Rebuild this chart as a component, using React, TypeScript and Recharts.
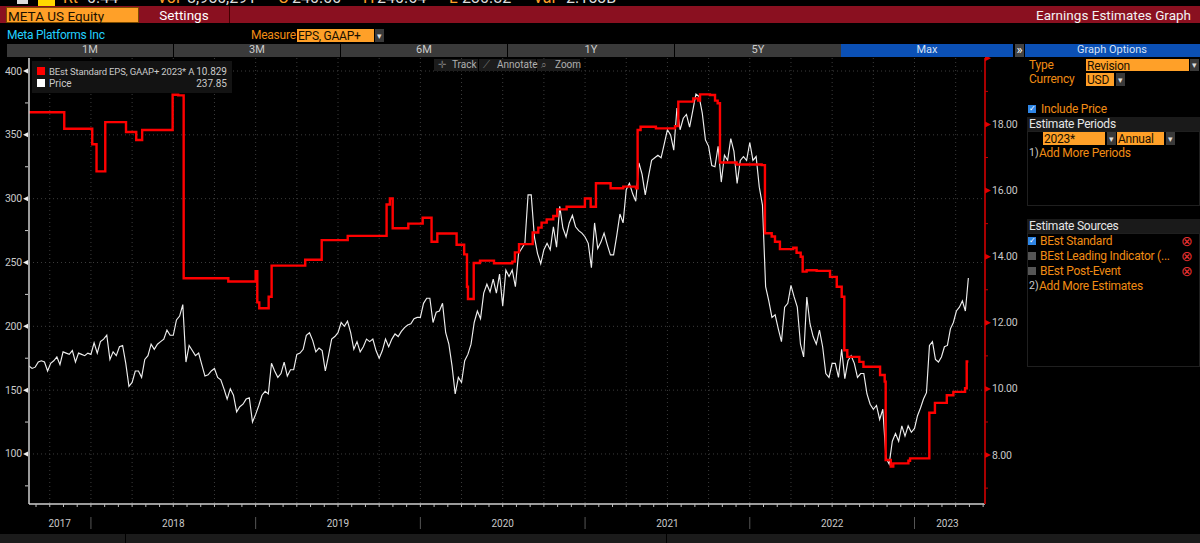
import React from 'react';
import { LineChart, Line, XAxis, YAxis, CartesianGrid } from 'recharts';

// weekly closes
const price2017 = [169, 167, 168, 172, 173, 172, 165, 171, 173, 176, 170, 180, 179, 178, 181, 172, 179, 178, 177, 179];
const price2018 = [178, 187, 179, 188, 190, 193, 174, 180, 177, 184, 185, 171, 153, 156, 165, 165, 160, 174, 177, 186, 182, 186, 188, 190, 197, 193, 193, 205, 208, 217, 172, 185, 181, 177, 179, 170, 161, 162, 165, 167, 160, 158, 151, 143, 151, 146, 133, 137, 139, 143, 144, 125];
const price2019 = [131, 138, 146, 149, 147, 171, 165, 160, 163, 172, 161, 166, 166, 178, 179, 182, 193, 195, 189, 180, 183, 181, 165, 177, 190, 192, 195, 203, 200, 204, 195, 182, 188, 180, 184, 190, 188, 190, 181, 175, 181, 190, 184, 190, 194, 192, 196, 199, 201, 202, 206, 207];
const price2020 = [207, 218, 222, 222, 203, 211, 212, 218, 195, 186, 169, 147, 160, 156, 173, 178, 186, 203, 212, 206, 226, 233, 227, 237, 226, 241, 216, 244, 239, 244, 231, 257, 261, 265, 303, 303, 270, 257, 249, 260, 265, 260, 278, 262, 294, 277, 270, 281, 287, 278, 275, 273];
const price2021 = [270, 265, 246, 281, 261, 266, 273, 264, 256, 256, 271, 288, 281, 307, 312, 304, 298, 328, 319, 303, 317, 330, 332, 334, 332, 343, 354, 350, 338, 371, 354, 363, 366, 356, 369, 382, 380, 367, 346, 341, 326, 325, 341, 313, 334, 330, 347, 337, 312, 330, 333, 330];
const price2022 = [344, 330, 333, 309, 295, 231, 220, 207, 209, 198, 188, 215, 218, 232, 223, 215, 186, 176, 223, 202, 192, 186, 197, 184, 163, 160, 171, 171, 160, 182, 159, 173, 177, 171, 160, 163, 163, 147, 139, 135, 138, 127, 135, 97, 92, 110, 116, 110, 122, 114, 122, 117];
const price2023 = [120, 130, 136, 143, 148, 185, 188, 174, 172, 176, 184, 185, 198, 203, 212, 215, 220, 212, 237.85];

// each change in the consensus estimate: date as fractional year, then the new level
const epsDates = [
  2017.624, 2017.838, 2018.008, 2018.034, 2018.087, 2018.213, 2018.275, 2018.311, 2018.496, 2018.53, 2018.563, 2018.834,
  2019.0, 2019.01, 2019.022, 2019.079, 2019.097, 2019.301, 2019.401, 2019.559, 2019.795, 2019.815, 2019.832, 2019.927,
  2020.014, 2020.068, 2020.103, 2020.22, 2020.266, 2020.283, 2020.289, 2020.324, 2020.362, 2020.447, 2020.558, 2020.574,
  2020.599, 2020.682, 2020.716, 2020.736, 2020.767, 2020.807, 2020.831, 2020.888, 2020.999, 2021.034, 2021.066, 2021.155,
  2021.232, 2021.309, 2021.319, 2021.337, 2021.43, 2021.546, 2021.566, 2021.657, 2021.687, 2021.698, 2021.758, 2021.789,
  2021.805, 2021.819, 2021.92, 2022.072, 2022.092, 2022.133, 2022.153, 2022.183, 2022.264, 2022.284, 2022.309, 2022.321,
  2022.345, 2022.406, 2022.487, 2022.528, 2022.558, 2022.574, 2022.592, 2022.665, 2022.69, 2022.791, 2022.819, 2022.825,
  2022.856, 2022.871, 2022.963, 2022.973, 2023.084, 2023.09, 2023.124, 2023.196, 2023.236, 2023.307, 2023.317, 2023.327,
];
const epsValues = [
  18.37, 17.87, 17.4, 16.58, 18.07, 17.77, 17.53, 17.83, 18.9, 18.88, 13.35, 13.25,
  13.56, 12.62, 12.44, 12.79, 13.73, 13.91, 14.5, 14.63, 15.58, 15.76, 14.86, 15.0,
  15.18, 14.45, 14.7, 14.36, 14.07, 13.09, 12.72, 13.81, 13.88, 13.8, 13.85, 14.13,
  14.38, 14.73, 14.88, 15.03, 15.13, 15.23, 15.43, 15.51, 15.76, 15.51, 16.22, 16.07,
  16.12, 16.07, 17.83, 17.93, 17.88, 17.95, 18.69, 18.79, 18.72, 18.91, 18.89, 18.72,
  18.64, 16.85, 16.79, 16.77, 14.71, 14.61, 14.45, 14.23, 14.27, 14.12, 14.0, 13.55,
  13.59, 13.57, 13.39, 13.09, 12.79, 11.17, 10.97, 10.82, 10.67, 10.42, 10.22, 7.85,
  7.65, 7.75, 7.83, 7.9, 7.9, 9.28, 9.58, 9.81, 9.91, 10.02, 10.83, 10.83,
];

const yearLabels = ['2017', '2018', '2019', '2020', '2021', '2022', '2023'];
const yearLabelDates = [2017.81, 2018.5, 2019.5, 2020.5, 2021.5, 2022.5, 2023.2];
const yearBoundaries = [2018, 2019, 2020, 2021, 2022, 2023];
const monthTicks = Array.from({ length: 70 }, (_, i) => 2017 + (8 + i) / 12);
const quarterLines = Array.from({ length: 23 }, (_, i) => 2017.75 + i / 4);
const priceTicks = [75, 100, 125, 150, 175, 200, 225, 250, 275, 300, 325, 350, 375, 400];
const priceGrid = [100, 150, 200, 250, 300, 350, 400];
const epsTicks = [7, 8, 9, 10, 11, 12, 13, 14, 15, 16, 17, 18, 19, 20];

const xDomain: [number, number] = [2017.624, 2023.428];

// spread each year's closes evenly over that year
const spread = (vals: number[], from: number, to: number, closed = false) =>
  vals.map((price, i) => ({ t: from + (i * (to - from)) / (closed ? vals.length - 1 : vals.length), price }));

const priceData = [
  ...spread(price2017, 2017.624, 2018),
  ...spread(price2018, 2018, 2019),
  ...spread(price2019, 2019, 2020),
  ...spread(price2020, 2020, 2021),
  ...spread(price2021, 2021, 2022),
  ...spread(price2022, 2022, 2023),
  ...spread(price2023, 2023, 2023.327, true),
];
const epsData = epsDates.map((t, i) => ({ t, eps: epsValues[i] }));

const ORANGE = '#ffa028';
const LABEL = '#f08c14';
const FONT = 'Roboto, "Noto Sans", sans-serif';

const T = ({ x, y, c = LABEL, s = 12, right, w, center, ls, children }: any) => (
  <div
    style={{
      position: 'absolute',
      left: center || right ? x - (w ?? 200) : x,
      width: center || right ? (w ?? 200) * (center ? 2 : 1) : undefined,
      top: y - 10,
      height: 20,
      lineHeight: '20px',
      color: c,
      fontSize: s,
      letterSpacing: ls ?? (s === 12 ? -0.25 : undefined),
      whiteSpace: 'nowrap',
      textAlign: center ? 'center' : right ? 'right' : 'left',
    }}
  >
    {children}
  </div>
);

const Box = ({ x, y, w, h, bg, border }: any) => (
  <div style={{ position: 'absolute', left: x, top: y, width: w, height: h, background: bg, border, boxSizing: 'border-box' }} />
);

const Drop = ({ x, y, h = 13 }: any) => (
  <>
    <Box x={x} y={y} w={9} h={h} bg="#3a3a3a" />
    <T x={x + 4.5} w={10} center y={y + h / 2} c="#ddd" s={9}>▾</T>
  </>
);

const Check = ({ x, y, on }: any) => (
  <>
    <Box x={x} y={y} w={8} h={8} bg={on ? '#2f86e6' : '#555'} />
    {on && <T x={x + 4} w={8} center y={y + 4} c="#fff" s={8}>✓</T>}
  </>
);

const LeftTick = ({ x, y, payload }: any) => {
  const major = payload.value % 50 === 0;
  return (
    <g>
      {major ? (
        <polygon points={`${x + 7},${y - 2.5} ${x + 7},${y + 2.5} ${x + 2},${y}`} fill="#eee" />
      ) : (
        <line x1={x + 4} x2={x + 7} y1={y} y2={y} stroke="#ccc" />
      )}
      {major && (
        <text x={x + 1} y={y + 3.5} textAnchor="end" fontSize={10.5} fill="#c9c9c9" fontFamily={FONT} letterSpacing={-0.2}>
          {payload.value}
        </text>
      )}
    </g>
  );
};

const RightTick = ({ x, y, payload }: any) => {
  const major = payload.value % 2 === 0;
  return (
    <g>
      {major ? (
        <polygon points={`${x - 8},${y - 3} ${x - 8},${y + 3} ${x - 2},${y}`} fill="#e00000" />
      ) : (
        <line x1={x - 8} x2={x - 5} y1={y} y2={y} stroke="#c00000" />
      )}
      {major && payload.value < 20 && (
        <text x={x - 1} y={y + 3.5} fontSize={10.5} fill="#c9c9c9" fontFamily={FONT} letterSpacing={-0.2}>
          {payload.value.toFixed(2)}
        </text>
      )}
    </g>
  );
};

const MonthTick = ({ x, y }: any) => <line x1={x} x2={x} y1={y - 8} y2={y - 5} stroke="#bbb" />;

const YearTick = ({ x, y, payload }: any) => {
  const i = yearLabelDates.indexOf(payload.value);
  if (i < 0) return <line x1={x} x2={x} y1={y - 7} y2={y + 5} stroke="#555" />;
  return (
    <text x={x} y={y + 3} textAnchor="middle" fontSize={10} fill="#c9c9c9" fontFamily={FONT}>
      {yearLabels[i]}
    </text>
  );
};

const tabs = ['1M', '3M', '6M', '1Y', '5Y'];

export default function App() {
  return (
    <div style={{ position: 'absolute', left: 0, top: 0, width: 1200, height: 543, background: '#000', overflow: 'hidden', fontFamily: FONT }}>
      <LineChart width={1200} height={543} margin={{ top: 58, right: 0, bottom: 0, left: 0 }} style={{ position: 'absolute', left: 0, top: 0 }}>
        <CartesianGrid yAxisId="left" stroke="#3c3c3c" strokeDasharray="1 3" horizontalValues={priceGrid} verticalValues={quarterLines} />
        <XAxis
          dataKey="t"
          type="number"
          domain={xDomain}
          ticks={monthTicks}
          interval={0}
          height={12}
          tickLine={false}
          tick={<MonthTick />}
          axisLine={{ stroke: '#cfcfcf', strokeWidth: 1.5 }}
          allowDataOverflow
        />
        <XAxis
          xAxisId="years"
          dataKey="t"
          type="number"
          domain={xDomain}
          ticks={[...yearLabelDates, ...yearBoundaries]}
          interval={0}
          height={27}
          tickLine={false}
          axisLine={false}
          tick={<YearTick />}
          allowDataOverflow
        />
        <YAxis
          yAxisId="left"
          width={29}
          domain={[60.8, 410.2]}
          ticks={priceTicks}
          interval={0}
          tickLine={false}
          tick={<LeftTick />}
          axisLine={{ stroke: '#cfcfcf', strokeWidth: 1.5 }}
          allowDataOverflow
        />
        <YAxis
          yAxisId="right"
          orientation="right"
          width={215}
          domain={[6.52, 20.01]}
          ticks={epsTicks}
          interval={0}
          tickLine={false}
          tick={<RightTick />}
          axisLine={{ stroke: '#a80000', strokeWidth: 2 }}
          allowDataOverflow
        />
        <Line
          yAxisId="left"
          data={priceData}
          dataKey="price"
          type="linear"
          stroke="#eeeeee"
          strokeWidth={1.15}
          dot={false}
          isAnimationActive={false}
        />
        <Line
          yAxisId="right"
          data={epsData}
          dataKey="eps"
          type="stepAfter"
          stroke="#ff0000"
          strokeWidth={2.4}
          dot={false}
          isAnimationActive={false}
        />
      </LineChart>

      {/* quote strip, cut off by the top of the screenshot */}
      <div style={{ position: 'absolute', left: 0, top: 0, width: 1200, height: 6, overflow: 'hidden' }}>
        <Box x={17} y={0} w={11} h={4} bg="#ddd" />
        <Box x={38} y={0} w={17} h={6} bg="#ffd800" />
        <T x={63} y={-2} s={16} c={ORANGE}>Rt</T>
        <T x={87} y={-2} s={16} c="#ddd">0.44</T>
        <T x={157} y={-2} s={16} c={ORANGE}>Vol</T>
        <T x={187} y={-2} s={16} c="#ddd">8,950,291</T>
        <T x={278} y={-2} s={16} c={ORANGE}>O</T>
        <T x={292} y={-2} s={16} c="#ddd">240.00</T>
        <T x={363} y={-2} s={16} c={ORANGE}>H</T>
        <T x={377} y={-2} s={16} c="#ddd">240.64</T>
        <T x={449} y={-2} s={16} c={ORANGE}>L</T>
        <T x={462} y={-2} s={16} c="#ddd">230.82</T>
        <T x={533} y={-2} s={16} c={ORANGE}>Val</T>
        <T x={566} y={-2} s={16} c="#ddd">2.153B</T>
      </div>

      {/* title bar */}
      <Box x={0} y={6} w={1200} h={17} bg="#8a1020" />
      <Box x={6} y={7} w={133} h={16} bg={ORANGE} border="1px solid #7a4a00" />
      <T x={8} y={15.5} s={13.5} c="#1a1000">META US Equity</T>
      <Box x={229} y={6} w={1} h={17} bg="#400" />
      <T x={184} w={60} center y={15} s={13.5} c="#fff">Settings</T>
      <T x={1191} right y={15} s={13.5} c="#f2f2f2">Earnings Estimates Graph</T>

      {/* security row */}
      <T x={7} y={35} s={12} c="#22d0ff">Meta Platforms Inc</T>
      <T x={251} y={35} s={12}>Measure</T>
      <Box x={297} y={29} w={77} h={13} bg={ORANGE} />
      <T x={298} y={35.5} s={12} c="#1a1000">EPS, GAAP+</T>
      <Drop x={375} y={29} />

      {/* range tabs */}
      {tabs.map((tab, i) => (
        <React.Fragment key={tab}>
          <Box x={7 + i * 167} y={44} w={166} h={13} bg="#3a3a3a" />
          <T x={90 + i * 167} w={40} center y={50} s={11} c="#ccc">{tab}</T>
        </React.Fragment>
      ))}
      <Box x={841} y={44} w={172} h={13} bg="#0b50b5" />
      <T x={927} w={40} center y={50} s={11} c="#d5e2f5">Max</T>
      <Box x={1015} y={44} w={9} h={13} bg="#444" />
      <T x={1019.5} w={10} center y={49.5} s={13} c="#fff">»</T>
      <Box x={1025} y={44} w={175} h={13} bg="#0b50b5" />
      <T x={1112} w={80} center y={50} s={11} c="#d5e2f5">Graph Options</T>

      {/* legend over the plot */}
      <Box x={32} y={61} w={200} h={32} bg="#131313" />
      <Box x={37} y={67} w={8} h={8} bg="#ff0000" />
      <Box x={37} y={79} w={8} h={8} bg="#ffffff" />
      <T x={49} y={71.5} s={9.5} c="#c9c9c9" ls={-0.15}>BEst Standard EPS, GAAP+ 2023* A</T>
      <T x={227} right y={71.5} s={10} c="#c9c9c9">10.829</T>
      <T x={49} y={83.5} s={10} c="#c9c9c9">Price</T>
      <T x={227} right y={83.5} s={10} c="#c9c9c9">237.85</T>

      {/* chart toolbar */}
      <Box x={434} y={59} w={44} h={12} bg="#1c1c1c" />
      <Box x={479} y={59} w={57} h={12} bg="#1c1c1c" />
      <Box x={537} y={59} w={43} h={12} bg="#1c1c1c" />
      <T x={438} y={65} s={9.5} c="#777">✛</T>
      <T x={452} y={65} s={10} c="#b0b0b0">Track</T>
      <T x={483} y={65} s={9.5} c="#777">⟋</T>
      <T x={497} y={65} s={10} c="#b0b0b0">Annotate</T>
      <T x={541} y={65} s={9.5} c="#777">⌕</T>
      <T x={555} y={65} s={10} c="#b0b0b0">Zoom</T>

      {/* graph options panel */}
      <Box x={1027} y={131} w={173} h={75} border="1px solid #1f1f1f" />
      <Box x={1027} y={233} w={173} h={134} border="1px solid #1f1f1f" />
      <T x={1029} y={65} s={12}>Type</T>
      <Box x={1086} y={59} w={103} h={12} bg={ORANGE} />
      <T x={1087} y={65.5} s={12} c="#1a1000">Revision</T>
      <Drop x={1190} y={59} h={12} />
      <T x={1029} y={79} s={12}>Currency</T>
      <Box x={1086} y={73} w={28} h={13} bg={ORANGE} />
      <T x={1087} y={80} s={12} c="#1a1000">USD</T>
      <Drop x={1116} y={73} />
      <Check x={1028} y={105} on />
      <T x={1041} y={108.5} s={12}>Include Price</T>
      <Box x={1027} y={117} w={173} h={14} bg="#1a1a1a" />
      <T x={1029} y={124} s={12} c="#e6e6e6">Estimate Periods</T>
      <Box x={1043} y={132} w={62} h={13} bg={ORANGE} />
      <T x={1044} y={139} s={12} c="#1a1000">2023*</T>
      <Drop x={1107} y={132} />
      <Box x={1117} y={132} w={47} h={13} bg={ORANGE} />
      <T x={1118} y={139} s={12} c="#1a1000">Annual</T>
      <Drop x={1166} y={132} />
      <T x={1029} y={153} s={10.5} c="#ccc">1)</T>
      <T x={1039} y={153} s={12}>Add More Periods</T>
      <Box x={1027} y={219} w={173} h={14} bg="#1a1a1a" />
      <T x={1029} y={226} s={12} c="#e6e6e6">Estimate Sources</T>
      <Check x={1028} y={237} on />
      <T x={1040} y={241} s={12}>BEst Standard</T>
      <Check x={1028} y={252} />
      <T x={1040} y={256} s={12}>BEst Leading Indicator (...</T>
      <Check x={1028} y={267} />
      <T x={1040} y={271} s={12}>BEst Post-Event</T>
      {[241, 256, 271].map((y) => (
        <T key={y} x={1187} w={10} center y={y} s={14} c="#e83030">⊗</T>
      ))}
      <T x={1029} y={286} s={10.5} c="#ccc">2)</T>
      <T x={1039} y={286} s={12}>Add More Estimates</T>

      {/* footer strip */}
      <Box x={0} y={534} w={1200} h={9} bg="#1b1b1b" />
      <Box x={125} y={534} w={1} h={9} bg="#000" />
      <Box x={666} y={534} w={1} h={9} bg="#000" />
    </div>
  );
}
